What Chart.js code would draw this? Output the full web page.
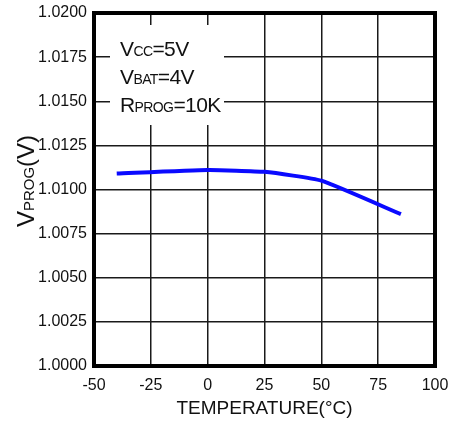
<!DOCTYPE html>
<html><head><meta charset="utf-8">
<script src="https://cdn.jsdelivr.net/npm/chart.js@4.4.0/dist/chart.umd.min.js"></script>
<style>html,body{margin:0;padding:0;background:#fff}canvas{display:block}</style>
</head><body>
<canvas id="c" width="454" height="423"></canvas>
<script>
const temperatures = [-40, 0, 25, 50, 85];
const vprog = [1.0109, 1.0111, 1.0110, 1.0105, 1.0086];
const xTicks = [-50, -25, 0, 25, 50, 75, 100];
const yTicks = [1.0000, 1.0025, 1.0050, 1.0075, 1.0100, 1.0125, 1.0150, 1.0175, 1.0200];
const annotationLines = [["V", "CC", "=5V"], ["V", "BAT", "=4V"], ["R", "PROG", "=10K"]];
const yTitleParts = ["V", "PROG", "(V)"];
const xTitle = "TEMPERATURE(°C)";

const FAM = '"Liberation Sans", Arial, sans-serif';

function richWidth(ctx, parts, big, small) {
  let w = 0;
  parts.forEach((p, i) => {
    ctx.font = (i === 1 ? small : big) + 'px ' + FAM;
    w += ctx.measureText(p).width;
  });
  return w;
}
function drawRich(ctx, parts, x, y, big, small) {
  let cx = x;
  parts.forEach((p, i) => {
    ctx.font = (i === 1 ? small : big) + 'px ' + FAM;
    ctx.fillText(p, cx, y);
    cx += ctx.measureText(p).width;
  });
}

const decor = {
  id: 'decor',
  beforeDatasetsDraw(chart) {
    const ctx = chart.ctx;
    ctx.save();
    ctx.fillStyle = '#fff';
    ctx.fillRect(110, 25, 114, 100);
    ctx.fillStyle = '#111';
    ctx.textBaseline = 'alphabetic';
    ctx.textAlign = 'left';
    ctx.letterSpacing = '-0.6px';
    const baselines = [56, 84, 112];
    annotationLines.forEach((parts, i) => drawRich(ctx, parts, 120, baselines[i], 21, 14));
    // y title
    ctx.letterSpacing = '0px';
    const w = richWidth(ctx, yTitleParts, 24, 15);
    ctx.translate(34, 181 + w / 2);
    ctx.rotate(-Math.PI / 2);
    drawRich(ctx, yTitleParts, 0, 0, 24, 15);
    ctx.restore();
  },
  afterDraw(chart) {
    const {ctx, chartArea: a} = chart;
    ctx.save();
    ctx.strokeStyle = '#000';
    ctx.lineWidth = 4;
    ctx.strokeRect(a.left, a.top, a.right - a.left, a.bottom - a.top);
    ctx.restore();
  }
};

new Chart(document.getElementById('c'), {
  type: 'line',
  data: {
    datasets: [{
      data: temperatures.map((t, i) => ({x: t, y: vprog[i]})),
      borderColor: '#0a0aff',
      borderWidth: 4,
      pointRadius: 0,
      tension: 0.15,
      fill: false
    }]
  },
  options: {
    responsive: false,
    animation: false,
    events: [],
    layout: {padding: {left: 0, top: 13, right: 19, bottom: 0}},
    plugins: {legend: {display: false}, tooltip: {enabled: false}},
    scales: {
      x: {
        type: 'linear', min: -50, max: 100,
        afterBuildTicks: s => { s.ticks = xTicks.map(v => ({value: v})); },
        afterFit: s => { s.height = 57; s.paddingLeft = 0; s.paddingRight = 0; },
        border: {display: false},
        grid: {color: '#1a1a1a', lineWidth: 1.5, drawTicks: false},
        ticks: {padding: 10, color: '#111', font: {family: FAM, size: 16}, maxRotation: 0,
                callback: v => String(v)},
        title: {display: true, text: xTitle, color: '#111', font: {family: FAM, size: 19},
                padding: {top: 0, bottom: 3}}
      },
      y: {
        type: 'linear', min: 1.0, max: 1.02,
        afterBuildTicks: s => { s.ticks = yTicks.map(v => ({value: v})); },
        afterFit: s => { s.width = 94; s.paddingTop = 0; s.paddingBottom = 0; },
        border: {display: false},
        grid: {color: '#1a1a1a', lineWidth: 1.5, drawTicks: false},
        ticks: {padding: 7, color: '#111', font: {family: FAM, size: 16},
                callback: v => Number(v).toFixed(4)}
      }
    }
  },
  plugins: [decor]
});
</script>
</body></html>
